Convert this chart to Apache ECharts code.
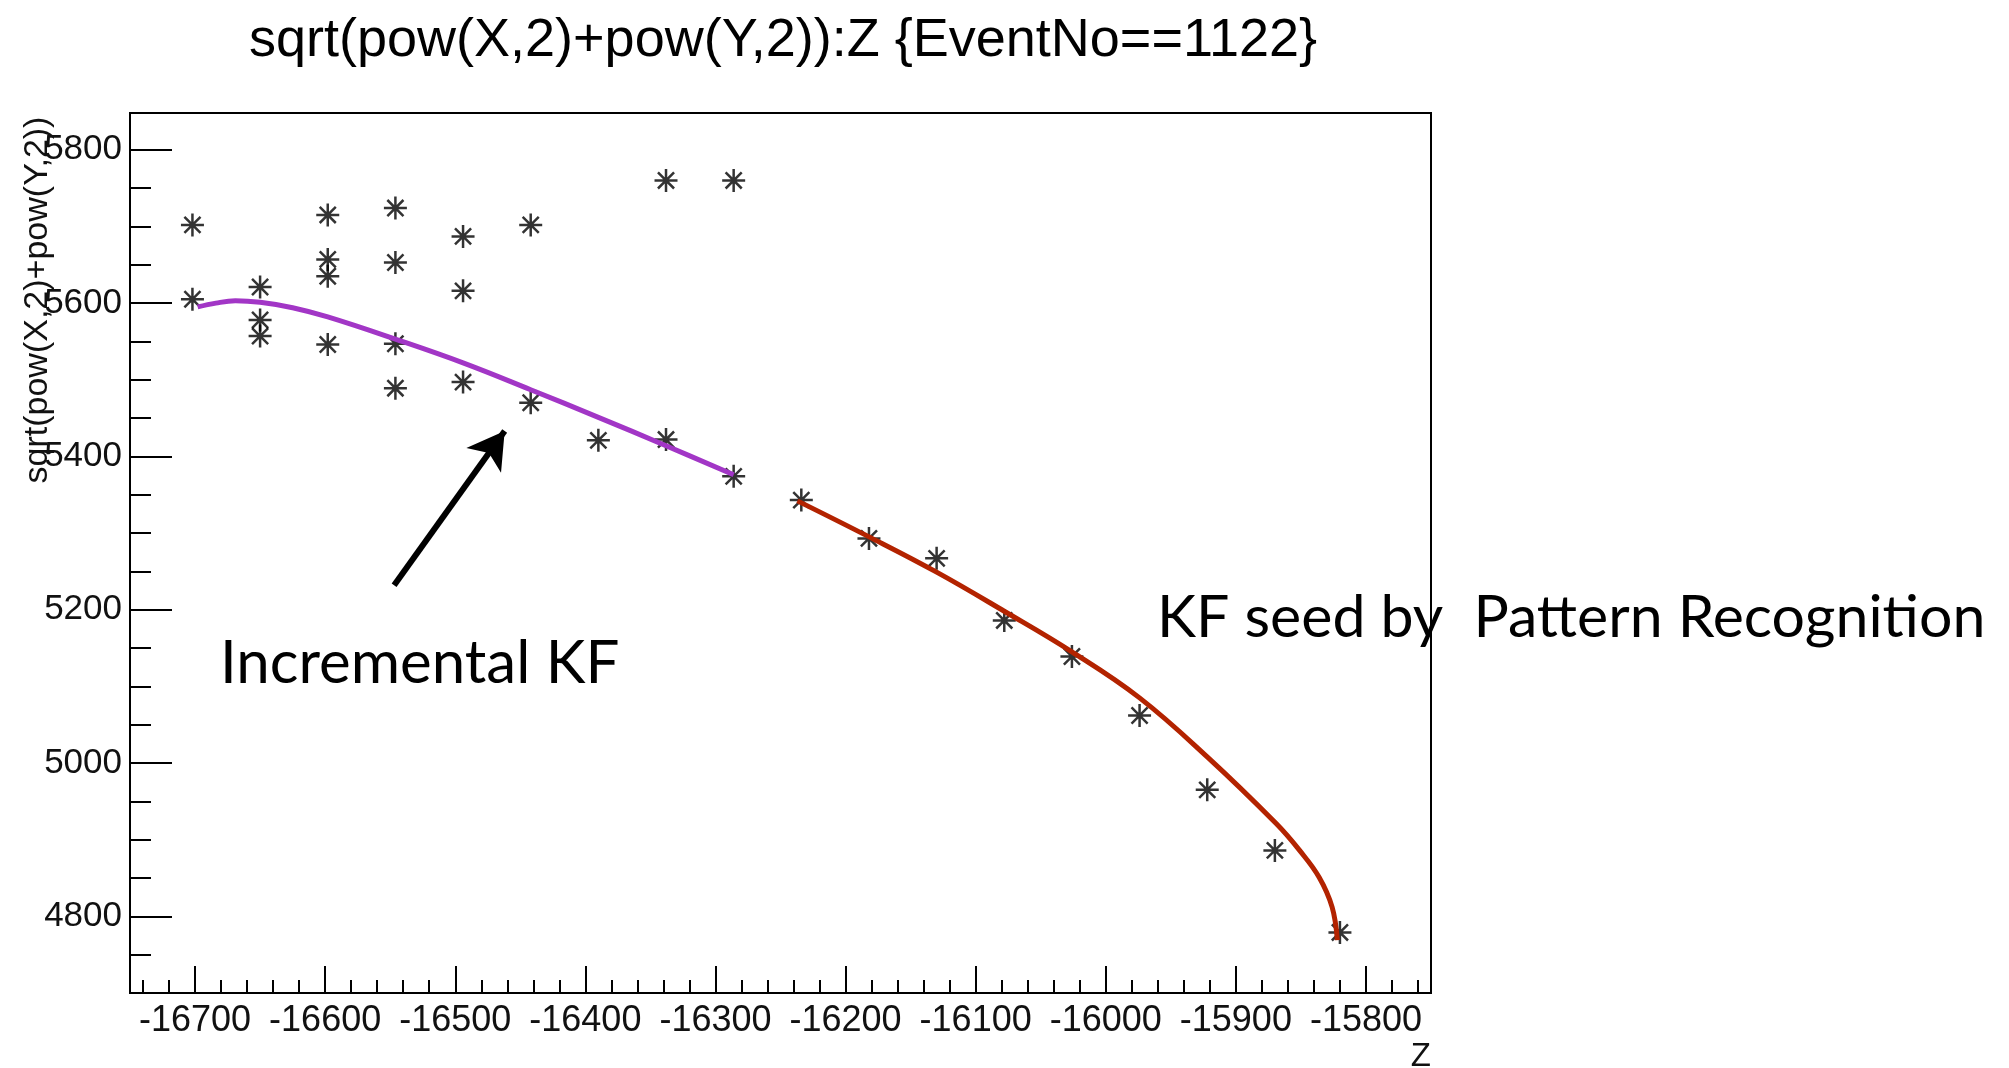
<!DOCTYPE html>
<html>
<head>
<meta charset="utf-8">
<title>sqrt(pow(X,2)+pow(Y,2)):Z {EventNo==1122}</title>
<script src="https://cdn.jsdelivr.net/npm/echarts@6/dist/echarts.min.js"></script>
<style>
    html, body { margin: 0; padding: 0; background: #fff; }
    #chart { width: 2009px; height: 1068px; }
</style>
</head>
<body>
<div id="chart"></div>
<script>
// hits of event 1122: z and sqrt(x^2+y^2)
const hitZ = [
    -16702, -16702,
    -16650, -16650, -16650,
    -16598, -16598, -16598, -16598,
    -16546, -16546, -16546, -16546,
    -16494, -16494, -16494,
    -16442, -16442,
    -16390,
    -16338, -16338,
    -16286, -16286,
    -16234, -16182, -16130, -16078, -16026, -15974, -15922, -15870, -15820,
];
const hitR = [
    5702, 5605,
    5621, 5578, 5557,
    5715, 5657, 5635, 5546,
    5724, 5653, 5547, 5489,
    5687, 5616, 5497,
    5702, 5470,
    5421,
    5760, 5422,
    5760, 5374,
    5343, 5293, 5267, 5186, 5139, 5062, 4965, 4886, 4779,
];

// incremental KF track (purple)
const incZ = [-16698, -16684, -16669, -16650, -16625, -16598, -16546, -16494, -16442, -16390, -16338, -16286];
const incR = [5595, 5600, 5603, 5601, 5594, 5582, 5553, 5522, 5487, 5451, 5414, 5376];

// KF seed by pattern recognition (red)
const seedZ = [-16237, -16183, -16130, -16078, -16026, -15974, -15922, -15869, -15851, -15836, -15826, -15822];
const seedR = [5342, 5296, 5249, 5198, 5145, 5085, 5008, 4921, 4886, 4851, 4812, 4769];

// axis ticks
const zMajorTicks = [-16700, -16600, -16500, -16400, -16300, -16200, -16100, -16000, -15900, -15800];
const zMinorTicks = [
    -16740, -16720,
    -16680, -16660, -16640, -16620,
    -16580, -16560, -16540, -16520,
    -16480, -16460, -16440, -16420,
    -16380, -16360, -16340, -16320,
    -16280, -16260, -16240, -16220,
    -16180, -16160, -16140, -16120,
    -16080, -16060, -16040, -16020,
    -15980, -15960, -15940, -15920,
    -15880, -15860, -15840, -15820,
    -15780, -15760,
];
const rMajorTicks = [4800, 5000, 5200, 5400, 5600, 5800];
const rMinorTicks = [4750, 4850, 4900, 4950, 5050, 5100, 5150, 5250, 5300, 5350, 5450, 5500, 5550, 5650, 5700, 5750];

// arrow pointing at the incremental KF track
const arrowFrom = [-16547, 5232];
const arrowTo = [-16462, 5433];

const rootFont = 'Liberation Sans';
const noteFont = 'Lato';
const star = 'path://M0,-10L0,10M-10,0L10,0M-7,-7L7,7M-7,7L7,-7';

const zip = (xs, ys) => xs.map((x, i) => [x, ys[i]]);
const plain = (v) => String(v);

const myChart = echarts.init(document.getElementById('chart'));

const xBase = {
    type: 'value',
    gridIndex: 0,
    position: 'bottom',
    min: -16750,
    max: -15750,
    splitLine: { show: false },
};
const yBase = {
    type: 'value',
    gridIndex: 0,
    position: 'left',
    min: 4700,
    max: 5848,
    splitLine: { show: false },
};

const option = {
    animation: false,
    backgroundColor: '#fff',
    title: {
        text: 'sqrt(pow(X,2)+pow(Y,2)):Z {EventNo==1122}',
        left: 244,
        top: 9,
        textStyle: {
            fontFamily: rootFont,
            fontWeight: 'normal',
            fontSize: 54,
            color: '#000',
        },
    },
    grid: {
        left: 130,
        right: 578,
        top: 113,
        bottom: 75,
        show: true,
        borderColor: '#000',
        borderWidth: 2,
        outerBoundsMode: 'none',
    },
    xAxis: [
        Object.assign({}, xBase, {
            axisLine: { show: true, lineStyle: { color: '#000', width: 2 } },
            axisTick: {
                show: true,
                inside: true,
                length: 27,
                customValues: zMajorTicks,
                lineStyle: { color: '#000', width: 2 },
            },
            axisLabel: {
                show: true,
                customValues: zMajorTicks,
                formatter: plain,
                margin: 10,
                fontFamily: rootFont,
                fontSize: 36,
                color: '#111',
            },
        }),
        Object.assign({}, xBase, {
            axisLine: { show: false },
            axisTick: {
                show: true,
                inside: true,
                length: 13,
                customValues: zMinorTicks,
                lineStyle: { color: '#000', width: 2 },
            },
            axisLabel: { show: false },
        }),
    ],
    yAxis: [
        Object.assign({}, yBase, {
            axisLine: { show: true, lineStyle: { color: '#000', width: 2 } },
            axisTick: {
                show: true,
                inside: true,
                length: 42,
                customValues: rMajorTicks,
                lineStyle: { color: '#000', width: 2 },
            },
            axisLabel: {
                show: true,
                customValues: rMajorTicks,
                formatter: plain,
                margin: 8,
                fontFamily: rootFont,
                fontSize: 35,
                color: '#111',
            },
        }),
        Object.assign({}, yBase, {
            axisLine: { show: false },
            axisTick: {
                show: true,
                inside: true,
                length: 21,
                customValues: rMinorTicks,
                lineStyle: { color: '#000', width: 2 },
            },
            axisLabel: { show: false },
        }),
    ],
    graphic: [
        {
            // y axis title
            type: 'text',
            x: 38,
            y: 300,
            rotation: Math.PI / 2,
            style: {
                text: 'sqrt(pow(X,2)+pow(Y,2))',
                fontFamily: rootFont,
                fontSize: 34,
                fill: '#111',
                align: 'center',
                verticalAlign: 'middle',
            },
        },
        {
            // x axis title
            type: 'text',
            x: 1431,
            y: 1057,
            style: {
                text: 'Z',
                fontFamily: rootFont,
                fontSize: 33,
                fill: '#111',
                align: 'right',
                verticalAlign: 'middle',
            },
        },
        {
            type: 'text',
            x: 220,
            y: 664,
            style: {
                text: 'Incremental KF',
                fontFamily: noteFont,
                fontSize: 60,
                fill: '#000',
                align: 'left',
                verticalAlign: 'middle',
            },
        },
        {
            type: 'text',
            x: 1157,
            y: 618,
            style: {
                text: 'KF seed by  Pattern Recognition',
                fontFamily: noteFont,
                fontSize: 59,
                fill: '#000',
                align: 'left',
                verticalAlign: 'middle',
            },
        },
    ],
    series: [
        {
            name: 'hits',
            type: 'scatter',
            xAxisIndex: 0,
            yAxisIndex: 0,
            data: zip(hitZ, hitR),
            symbol: star,
            symbolSize: 23,
            itemStyle: {
                color: 'rgba(0,0,0,0)',
                borderColor: '#000',
                borderWidth: 2.5,
            },
            markLine: {
                silent: true,
                symbol: ['none', 'arrow'],
                symbolSize: [32, 36],
                label: { show: false },
                lineStyle: { color: '#000', width: 6, type: 'solid' },
                data: [[{ coord: arrowFrom }, { coord: arrowTo }]],
            },
        },
        {
            name: 'Incremental KF',
            type: 'line',
            xAxisIndex: 0,
            yAxisIndex: 0,
            data: zip(incZ, incR),
            smooth: 0.4,
            showSymbol: false,
            lineStyle: { color: '#a236c6', width: 5 },
        },
        {
            name: 'KF seed',
            type: 'line',
            xAxisIndex: 0,
            yAxisIndex: 0,
            data: zip(seedZ, seedR),
            smooth: 0.4,
            showSymbol: false,
            lineStyle: { color: '#b32300', width: 5 },
        },
    ],
};

myChart.setOption(option);
window.addEventListener('resize', () => {
    myChart.resize();
});
</script>
</body>
</html>
